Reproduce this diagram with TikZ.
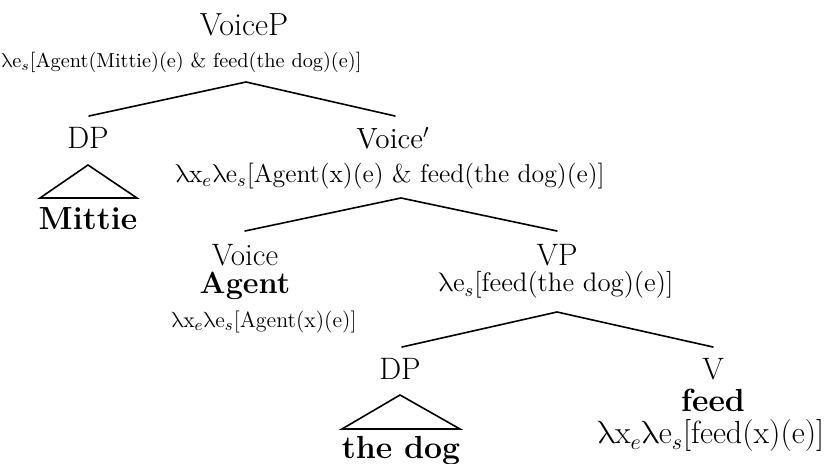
\documentclass[tikz,border=0pt]{standalone}
\usepackage{fontspec}
\newfontfamily\grkfont{Latin Modern Math}
\newcommand\lam{{\grkfont λ}}
\newcommand\fs[1]{\fontsize{#1}{#1}\selectfont}
\begin{document}
\begin{tikzpicture}[x=0.5pt,y=-0.5pt,
  cat/.style={font=\fs{15.5}, inner sep=0pt},
  bld/.style={font=\fs{16}\bfseries, inner sep=0pt},
  sem/.style={inner sep=0pt},
  branch/.style={line width=0.8pt, line cap=round}]
\useasboundingbox (0,0) rectangle (830,464);
% VoiceP
\node[cat, font=\fs{16}] (voicep) at (244,25) {VoiceP};
\node[sem, font=\fs{10.15}, anchor=west] (voicepsem) at (1,62) {\lam e$_s$[Agent(Mittie)(e) \& feed(the dog)(e)]};
\coordinate (a1) at (246,82);
\coordinate (dp1top) at (89,116);
\coordinate (vbartop) at (395,116);
% DP Mittie
\node[cat] (dp1) at (88,138) {DP};
\coordinate (t1a) at (88,165);
\coordinate (t1l) at (40,198);
\coordinate (t1r) at (137,198);
\node[bld] (mittie) at (88,219) {Mittie};
% Voice'
\node[cat, font=\fs{14.6}] (vbar) at (393,138) {Voice$'$};
\node[sem, font=\fs{12.9}] (vbarsem) at (390,176) {\lam x$_e$\lam e$_s$[Agent(x)(e) \& feed(the dog)(e)]};
\coordinate (a2) at (401,198);
\coordinate (voicetop) at (245,231);
\coordinate (vptop) at (557,231);
% Voice
\node[cat] (voice) at (245,255) {Voice};
\node[bld, font=\fs{15.3}\bfseries] (agent) at (245,286) {Agent};
\node[sem, font=\fs{11}] (voicesem) at (264,322) {\lam x$_e$\lam e$_s$[Agent(x)(e)]};
% VP
\node[cat] (vp) at (557,255) {VP};
\node[sem, font=\fs{13.4}] (vpsem) at (556,285) {\lam e$_s$[feed(the dog)(e)]};
\coordinate (a3) at (557,312);
\coordinate (dp2top) at (402,347);
\coordinate (vtop) at (713,347);
% DP the dog
\node[cat] (dp2) at (400,369) {DP};
\coordinate (t2a) at (400,395);
\coordinate (t2l) at (342,429);
\coordinate (t2r) at (460,429);
\node[bld] (thedog) at (401,451) {the dog};
% V
\node[cat] (v) at (713,369) {V};
\node[bld] (feed) at (713,400) {feed};
\node[sem, font=\fs{16}] (vsem) at (711,436) {\lam x$_e$\lam e$_s$[feed(x)(e)]};
% branches
\draw[branch] (dp1top) -- (a1) -- (vbartop);
\draw[branch] (voicetop) -- (a2) -- (vptop);
\draw[branch] (dp2top) -- (a3) -- (vtop);
\draw[branch, line join=miter] (t1a) -- (t1l) -- (t1r) -- cycle;
\draw[branch, line join=miter] (t2a) -- (t2l) -- (t2r) -- cycle;
\end{tikzpicture}
\end{document}
